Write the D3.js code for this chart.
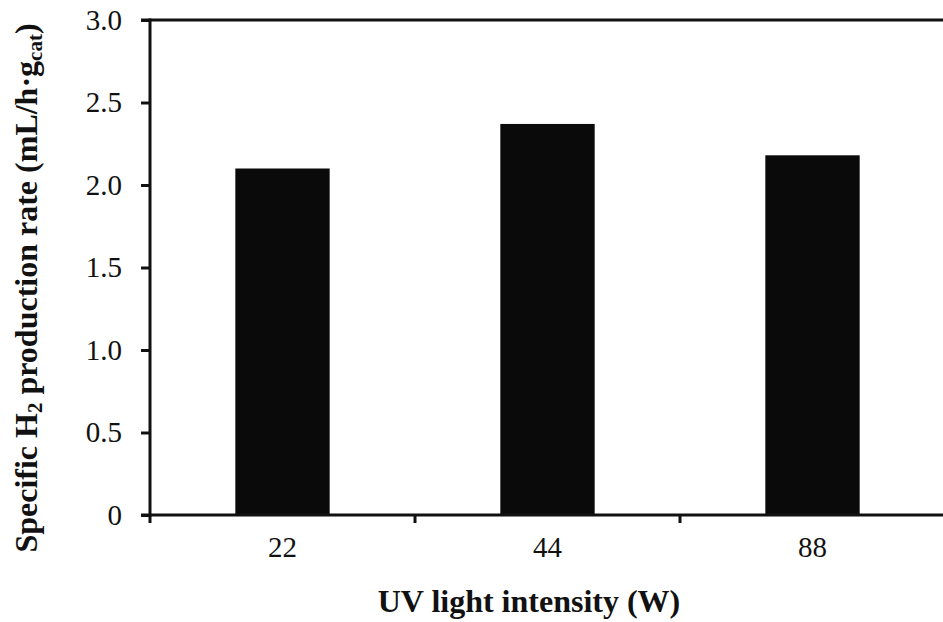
<!DOCTYPE html>
<html lang="en">
<head>
<meta charset="utf-8"/>
<title>UV light intensity vs H2 production</title>
<script src="https://d3js.org/d3.v7.min.js"></script>
<style>
  body { margin: 0; background: #fff; }
  text { font-family: "Liberation Serif", "Times New Roman", serif; fill: #111; }
</style>
</head>
<body>
<script>
// chart data
var categories = ["22", "44", "88"];
var rates = [2.10, 2.37, 2.18];
var yTicks = [0, 0.5, 1.0, 1.5, 2.0, 2.5, 3.0];

var w = 943, h = 622;
var padL = 150, padR = 945, padT = 20, padB = 515;

var svg = d3.select("body").append("svg")
    .attr("width", w)
    .attr("height", h);

var x = d3.scaleBand()
    .domain(categories)
    .range([padL, padR])
    .padding(0);

var y = d3.scaleLinear()
    .domain([0, 3])
    .range([padB, padT]);

var barFrac = 0.356;

// bars
svg.selectAll("rect.bar")
    .data(categories)
    .enter()
    .append("rect")
    .attr("class", "bar")
    .attr("x", function(d) { return x(d) + x.bandwidth() * (1 - barFrac) / 2; })
    .attr("width", x.bandwidth() * barFrac)
    .attr("y", function(d, i) { return y(rates[i]); })
    .attr("height", function(d, i) { return padB - y(rates[i]); })
    .style("fill", "#0a0a0a");

// y axis
var yAxis = svg.append("g")
    .attr("transform", "translate(" + padL + ",0)")
    .call(d3.axisLeft(y)
        .tickValues(yTicks)
        .tickSize(9)
        .tickSizeOuter(0)
        .tickPadding(19)
        .tickFormat(function(d) { return d === 0 ? "0" : d3.format(".1f")(d); }));

yAxis.selectAll("text").style("font-size", "29px").style("font-family", "Liberation Serif");

// x axis (labels only, ticks drawn at category boundaries)
var xAxis = svg.append("g")
    .attr("transform", "translate(0," + padB + ")")
    .call(d3.axisBottom(x).tickSize(0).tickPadding(21));
xAxis.select(".domain").remove();
xAxis.selectAll("text").style("font-size", "29px").style("font-family", "Liberation Serif");

var bounds = categories.map(function(d) { return x(d); }).slice(1);
bounds.unshift(padL);
svg.selectAll("line.xtick")
    .data(bounds)
    .enter()
    .append("line")
    .attr("class", "xtick")
    .attr("x1", function(d) { return d; })
    .attr("x2", function(d) { return d; })
    .attr("y1", padB)
    .attr("y2", padB + 8)
    .style("stroke", "#111")
    .style("stroke-width", 3);

// axis lines
yAxis.select(".domain").remove();
yAxis.selectAll("line").style("stroke", "#111").style("stroke-width", 3);

svg.append("line") // left spine
    .attr("x1", padL).attr("x2", padL)
    .attr("y1", padT - 1.5).attr("y2", padB + 1.5)
    .style("stroke", "#111").style("stroke-width", 3);

svg.append("line") // top frame
    .attr("x1", padL - 9).attr("x2", w)
    .attr("y1", padT).attr("y2", padT)
    .style("stroke", "#111").style("stroke-width", 3);

svg.append("line") // bottom axis
    .attr("x1", padL - 9).attr("x2", w)
    .attr("y1", padB).attr("y2", padB)
    .style("stroke", "#111").style("stroke-width", 3);

// axis titles
svg.append("text")
    .attr("x", 529)
    .attr("y", 612)
    .attr("text-anchor", "middle")
    .style("font-size", "32px")
    .style("font-weight", "bold")
    .text("UV light intensity (W)");

var yt = svg.append("text")
    .attr("transform", "translate(37,288) rotate(-90)")
    .attr("text-anchor", "middle")
    .style("font-size", "32px")
    .style("font-weight", "bold");
yt.append("tspan").text("Specific H");
yt.append("tspan").attr("baseline-shift", "-25%").style("font-size", "21px").text("2");
yt.append("tspan").text(" production rate (mL/h\u00b7g");
yt.append("tspan").attr("baseline-shift", "-25%").style("font-size", "21px").text("cat");
yt.append("tspan").text(")");
</script>
</body>
</html>
